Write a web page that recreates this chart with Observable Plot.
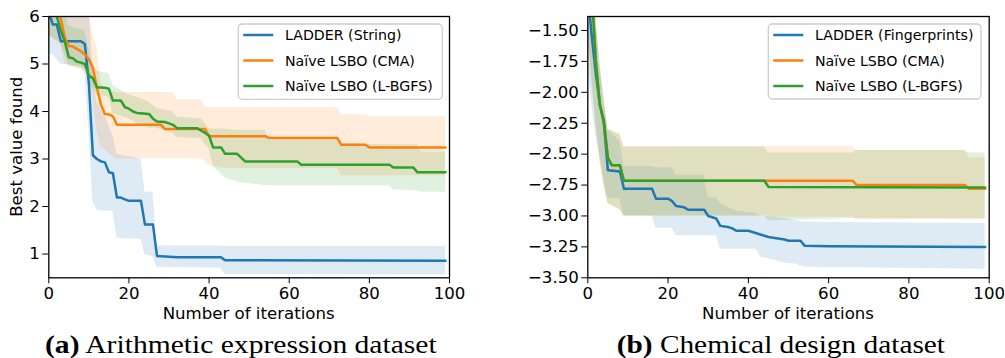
<!DOCTYPE html>
<html><head><meta charset="utf-8">
<script src="https://cdn.jsdelivr.net/npm/d3@7"></script>
<script src="https://cdn.jsdelivr.net/npm/@observablehq/plot@0.6"></script>
<style>
html,body{margin:0;padding:0;background:#fff;}
body{width:1005px;height:358px;overflow:hidden;position:relative;font-family:"DejaVu Sans";}
#pa{position:absolute;left:0;top:0;width:500px;height:358px;}
#pb{position:absolute;left:500px;top:0;width:505px;height:358px;}
</style></head><body>
<div id="pa"></div><div id="pb"></div>
<script>
// ---------- shared ----------
const colors = ["#1f77b4", "#ff7f0e", "#2ca02c"];
const xTicks = [0, 20, 40, 60, 80, 100];
const xLabel = "Number of iterations";

// ---------- (a) Arithmetic expression dataset ----------
const namesA = ["LADDER (String)", "Naïve LSBO (CMA)", "Naïve LSBO (L-BGFS)"];
const yTicksA = [1, 2, 3, 4, 5, 6];
const yLabelA = "Best value found";
const captionA = ["(a)", " Arithmetic expression dataset"];

const ladderStringMean = [[0,6.1],[1,5.83],[2,5.83],[3,5.48],[8,5.48],[9,5.42],[10,4.6],[11,3.08],[12,3.0],[13,2.95],[14,2.93],[15,2.72],[16,2.7],[17,2.19],[18,2.19],[19,2.15],[20,2.12],[23,2.12],[24,1.62],[26,1.62],[27,0.96],[29,0.95],[32,0.93],[43,0.93],[44,0.87],[99,0.86]];
const ladderStringBand = [[0,5.2,6.8],[1,5.2,6.8],[2,5.1,6.7],[3,5.0,6.6],[8,4.95,6.5],[9,4.8,6.4],[10,3.6,6.3],[11,2.1,4.8],[12,1.92,4.2],[14,1.9,3.9],[16,1.9,3.5],[17,1.33,3.1],[23,1.31,3.0],[24,0.98,2.3],[26,0.95,2.3],[27,0.72,1.17],[43,0.70,1.17],[44,0.57,1.16],[99,0.56,1.16]];

const cmaMeanA = [[0,6.6],[1,6.4],[2,6.15],[3,5.95],[4,5.55],[5,5.38],[6,5.37],[7,5.32],[8,5.27],[9,5.2],[10,5.1],[11,4.92],[12,4.5],[13,4.15],[14,3.95],[15,3.94],[16,3.9],[17,3.72],[28,3.72],[29,3.63],[39,3.63],[40,3.48],[54,3.48],[55,3.44],[72,3.44],[73,3.30],[79,3.30],[80,3.245],[99,3.245]];
const cmaBandA = [[0,5.6,7],[3,5.4,7],[4,5.0,6.8],[9,4.85,6.6],[10,4.7,6.2],[11,4.3,5.6],[12,3.6,5.4],[13,3.25,4.6],[14,3.2,4.45],[16,3.05,4.42],[17,3.0,4.4],[31,3.0,4.4],[32,3.0,4.25],[38,3.0,4.25],[39,2.95,4.09],[40,2.86,4.09],[44,2.8,4.09],[72,2.8,4.09],[73,2.65,3.93],[79,2.65,3.93],[80,2.65,3.89],[99,2.65,3.89]];

const lbfgsMeanA = [[0,6.4],[1,6.2],[2,6.0],[3,5.7],[4,5.47],[5,5.14],[6,5.12],[7,5.05],[8,5.03],[9,5.0],[10,4.76],[11,4.7],[12,4.51],[14,4.5],[15,4.48],[16,4.23],[18,4.23],[19,4.09],[20,4.06],[21,4.0],[22,3.97],[25,3.95],[26,3.85],[27,3.79],[29,3.78],[30,3.75],[31,3.72],[32,3.65],[37,3.65],[38,3.6],[39,3.55],[40,3.49],[41,3.245],[43,3.245],[44,3.11],[47,3.11],[48,3.03],[49,2.95],[62,2.95],[63,2.88],[85,2.88],[86,2.82],[91,2.82],[92,2.72],[99,2.72]];
const lbfgsBandA = [[0,5.6,6.5],[3,5.45,6.3],[4,5.2,6.1],[5,4.97,5.8],[9,4.9,5.7],[10,4.6,5.3],[11,4.5,5.0],[12,4.35,4.85],[15,4.3,4.8],[16,3.95,4.55],[18,3.9,4.45],[20,3.85,4.35],[22,3.75,4.3],[25,3.65,4.2],[27,3.64,4.06],[31,3.55,4.0],[32,3.45,3.88],[38,3.43,3.85],[39,3.3,3.75],[40,3.22,3.63],[41,2.85,3.63],[44,2.6,3.63],[48,2.5,3.6],[54,2.44,3.6],[55,2.44,3.39],[72,2.44,3.39],[73,2.44,3.32],[85,2.44,3.3],[86,2.35,3.3],[92,2.33,3.3],[93,2.3,3.15],[99,2.3,3.15]];

// ---------- (b) Chemical design dataset ----------
const namesB = ["LADDER (Fingerprints)", "Naïve LSBO (CMA)", "Naïve LSBO (L-BGFS)"];
const yTicksB = [-3.5, -3.25, -3.0, -2.75, -2.5, -2.25, -2.0, -1.75, -1.5];
const captionB = ["(b)", " Chemical design dataset"];

const ladderFpMean = [[0,-1.2],[1,-1.55],[2,-1.85],[3,-2.1],[4,-2.25],[5,-2.63],[8,-2.64],[9,-2.78],[16,-2.78],[17,-2.86],[20,-2.86],[21,-2.88],[22,-2.92],[24,-2.93],[25,-2.95],[29,-2.95],[30,-3.0],[32,-3.02],[33,-3.08],[35,-3.09],[36,-3.10],[37,-3.12],[40,-3.12],[41,-3.13],[43,-3.15],[44,-3.16],[45,-3.17],[47,-3.18],[49,-3.19],[50,-3.2],[53,-3.2],[54,-3.24],[60,-3.245],[99,-3.25]];
const ladderFpBand = [[0,-1.8,-0.6],[1,-2.1,-1.0],[2,-2.35,-1.4],[3,-2.5,-1.8],[4,-2.7,-2.05],[5,-2.86,-2.3],[8,-2.86,-2.4],[9,-3.0,-2.6],[16,-3.0,-2.6],[17,-3.1,-2.61],[21,-3.1,-2.61],[22,-3.16,-2.67],[29,-3.16,-2.67],[30,-3.16,-2.85],[32,-3.16,-2.85],[33,-3.27,-2.9],[37,-3.27,-2.96],[42,-3.27,-2.98],[43,-3.33,-3.0],[49,-3.38,-3.02],[52,-3.39,-3.04],[54,-3.415,-3.05],[99,-3.43,-3.06]];

const cmaMeanB = [[0,-0.8],[1,-1.2],[2,-1.75],[3,-2.1],[4,-2.23],[5,-2.53],[6,-2.59],[8,-2.59],[9,-2.715],[66,-2.715],[67,-2.75],[94,-2.75],[95,-2.78],[99,-2.78]];
const cmaBandB = [[0,-1.5,-0.9],[1,-1.9,-1.1],[2,-2.25,-1.4],[3,-2.55,-1.75],[4,-2.75,-2.05],[5,-2.9,-2.3],[8,-2.95,-2.34],[9,-3.0,-2.44],[44,-3.0,-2.44],[45,-3.01,-2.44],[66,-3.01,-2.44],[67,-3.03,-2.47],[94,-3.03,-2.47],[95,-3.03,-2.53],[99,-3.03,-2.53]];

const lbfgsMeanB = [[0,-0.8],[1,-1.2],[2,-1.75],[3,-2.1],[4,-2.23],[5,-2.53],[6,-2.59],[8,-2.59],[9,-2.715],[44,-2.715],[45,-2.765],[99,-2.77]];
const lbfgsBandB = [[0,-1.5,-0.9],[1,-1.9,-1.1],[2,-2.25,-1.4],[3,-2.55,-1.75],[4,-2.75,-2.05],[5,-2.9,-2.3],[8,-2.95,-2.34],[9,-3.0,-2.44],[44,-3.0,-2.44],[45,-3.04,-2.49],[66,-3.02,-2.49],[67,-3.02,-2.47],[94,-3.02,-2.47],[95,-3.02,-2.49],[99,-3.02,-2.49]];

// ---------- drawing ----------
function panel(cfg) {
  const plot = Plot.plot({
    width: cfg.width, height: 358,
    marginLeft: cfg.ml, marginRight: cfg.mr, marginTop: 16, marginBottom: 80.7,
    style: {fontFamily: "DejaVu Sans", fontSize: "16.6px", color: "black", background: "transparent", overflow: "visible"},
    x: {domain: [0, 100], ticks: xTicks, tickSize: 6, tickPadding: 3, label: null, tickFormat: d3.format("d")},
    y: {domain: cfg.yDomain, ticks: cfg.yTicks, tickSize: 6, tickPadding: 3, label: null, tickFormat: cfg.yFormat},
    marks: [
      ...cfg.bands.map((b, k) => Plot.areaY(b, {x: d => d[0], y1: d => d[1], y2: d => d[2], fill: colors[k], fillOpacity: 0.15, clip: true})),
      ...cfg.series.map((s, k) => Plot.line(s, {x: d => d[0], y: d => d[1], stroke: colors[k], strokeWidth: 2.5, clip: true})),
      Plot.frame({stroke: "black", strokeWidth: 1.3})
    ]
  });
  const svg = d3.select(plot);
  const xs = plot.scale("x");
  // x label
  svg.append("text").attr("x", xs.apply(50)).attr("y", 319.3)
    .attr("text-anchor", "middle").attr("font-size", "16.6px").attr("fill", "black").text(xLabel);
  // y label
  if (cfg.yLabel) {
    svg.append("text").attr("transform", "translate(21.7,146.7) rotate(-90)")
      .attr("text-anchor", "middle").attr("font-size", "16.6px").attr("fill", "black").text(cfg.yLabel);
  }
  // legend
  const L = cfg.legend;
  const g = svg.append("g").attr("text-anchor", "start");
  g.append("rect").attr("x", L.x).attr("y", L.y).attr("width", L.w).attr("height", L.h).attr("rx", 4)
    .attr("fill", "white").attr("fill-opacity", 0.8).attr("stroke", "#cccccc").attr("stroke-width", 1.3);
  cfg.names.forEach((n, k) => {
    const yy = L.y + 11 + 25.5 * k;
    g.append("line").attr("x1", L.x + 5).attr("x2", L.x + 35).attr("y1", yy).attr("y2", yy)
      .attr("stroke", colors[k]).attr("stroke-width", 2.5);
    g.append("text").attr("x", L.x + 46.7).attr("y", yy).attr("dy", "0.36em")
      .attr("text-anchor", "start").attr("font-size", "14.2px").attr("fill", "black").text(n);
  });
  // caption
  const cap = svg.append("text").attr("x", cfg.cap.x).attr("y", 353.3)
    .attr("text-anchor", "start")
    .attr("font-family", "'Liberation Serif'").attr("font-size", "25px").attr("fill", "black")
    .attr("textLength", cfg.cap.w).attr("lengthAdjust", "spacingAndGlyphs");
  cap.append("tspan").attr("font-weight", "bold").text(cfg.caption[0]);
  cap.append("tspan").text(cfg.caption[1]);
  return plot;
}

document.getElementById("pa").append(panel({
  width: 500, ml: 48.3, mr: 51, yDomain: [0.5, 6], yTicks: yTicksA, yFormat: d3.format("d"),
  bands: [ladderStringBand, cmaBandA, lbfgsBandA], series: [ladderStringMean, cmaMeanA, lbfgsMeanA],
  names: namesA, yLabel: yLabelA, caption: captionA,
  legend: {x: 238.3, y: 24, w: 204, h: 75.3}, cap: {x: 45, w: 391.7}
}));
document.getElementById("pb").append(panel({
  width: 505, ml: 87.3, mr: 16.3, yDomain: [-3.5, -1.387], yTicks: yTicksB, yFormat: d3.format(".2f"),
  bands: [ladderFpBand, cmaBandB, lbfgsBandB], series: [ladderFpMean, cmaMeanB, lbfgsMeanB],
  names: namesB, yLabel: null, caption: captionB,
  legend: {x: 268.3, y: 24, w: 212.7, h: 75}, cap: {x: 116.7, w: 328.3}
}));
</script>
</body></html>
